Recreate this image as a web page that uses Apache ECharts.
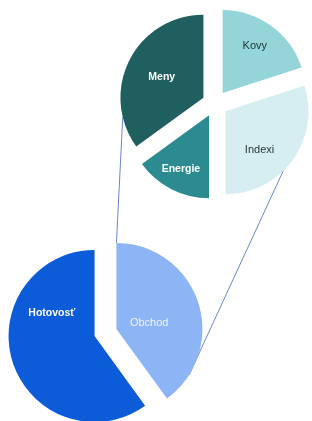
<!DOCTYPE html>
<html>
<head>
<meta charset="utf-8">
<script src="https://cdn.jsdelivr.net/npm/echarts@6/dist/echarts.min.js"></script>
<style>
  html, body { margin: 0; padding: 0; background: #fff; }
  #main { width: 312px; height: 421px; }
</style>
</head>
<body>
<div id="main"></div>
<script>
// horny kolac (rozpad Obchodu) a dolny kolac
var topNames = ['Kovy', 'Indexi', 'Energie', 'Meny'];
var topValues = [20, 30, 15, 35];
var bottomNames = ['Obchod', 'Hotovosť'];
var bottomValues = [40, 60];

var topColors = ['#93d5d8', '#d6eef2', '#2b8b90', '#1f5f5f'];
var topLabelColors = ['#1e3333', '#1e3333', '#ffffff', '#ffffff'];
var topLabelBold = [false, false, true, true];
var topLabelShift = [[6, -11], [-2, 13], [-8, 14], [-2, 0]];
var bottomColors = ['#8db4f5', '#0c5bd8'];
var bottomLabelColors = ['#eef4ff', '#ffffff'];
var bottomLabelBold = [false, true];
var bottomLabelShift = [[-11, 8], [1, -37]];

// geometria kolacov (px)
var topCenter = [215, 103.6], topR = 83, topGap = 13;
var bottomCenter = [105.5, 332.5], bottomR = 86, bottomGap = 11.5;

var MyChart = echarts.init(document.getElementById('main'));

function buildData(names, values, colors, labelColors, bold) {
  var arr = [];
  for (var i = 0; i < names.length; i++) {
    arr.push({
      name: names[i],
      value: values[i],
      selected: true,
      itemStyle: { color: colors[i] },
      select: { itemStyle: { color: colors[i], borderWidth: 0 } },
      label: {
        color: labelColors[i],
        fontWeight: bold[i] ? 'bold' : 'normal',
        fontSize: bold[i] ? 10.5 : 11
      }
    });
  }
  return arr;
}

// bod na obvode vysunuteho dielika (uhol v stupnoch, od 12 hodiny v smere hodin)
function slicePoint(center, r, gap, values, idx, angle) {
  var total = 0, before = 0;
  for (var i = 0; i < values.length; i++) {
    total += values[i];
    if (i < idx) before += values[i];
  }
  var mid = (before + values[idx] / 2) / total * 2 * Math.PI;
  var cx = center[0] + gap * Math.sin(mid);
  var cy = center[1] - gap * Math.cos(mid);
  var a = angle * Math.PI / 180;
  return [cx + r * Math.sin(a), cy - r * Math.cos(a)];
}

var p1 = slicePoint(topCenter, topR, topGap, topValues, 3, 256.4);
var p2 = slicePoint(bottomCenter, bottomR, bottomGap, bottomValues, 0, 0);
var p3 = slicePoint(topCenter, topR, topGap, topValues, 1, 136);
var p4 = slicePoint(bottomCenter, bottomR, bottomGap, bottomValues, 0, 122.5);

var labelBase = {
  show: true,
  position: 'inside',
  fontFamily: 'Liberation Sans, Arial, sans-serif',
  fontSize: 11
};

function shiftLabels(shifts) {
  return function (params) {
    var s = shifts[params.dataIndex];
    return { dx: s[0], dy: s[1] };
  };
}

var option = {
  animation: false,
  backgroundColor: '#ffffff',
  graphic: [
    { type: 'line', shape: { x1: p1[0], y1: p1[1], x2: p2[0], y2: p2[1] },
      style: { stroke: '#6b87cc', lineWidth: 1 } },
    { type: 'line', shape: { x1: p3[0], y1: p3[1], x2: p4[0], y2: p4[1] },
      style: { stroke: '#6b87cc', lineWidth: 1 } }
  ],
  series: [
    {
      type: 'pie',
      center: topCenter,
      radius: topR,
      startAngle: 90,
      selectedMode: 'multiple',
      selectedOffset: topGap,
      silent: true,
      label: labelBase,
      labelLine: { show: false },
      labelLayout: shiftLabels(topLabelShift),
      data: buildData(topNames, topValues, topColors, topLabelColors, topLabelBold)
    },
    {
      type: 'pie',
      center: bottomCenter,
      radius: bottomR,
      startAngle: 90,
      selectedMode: 'multiple',
      selectedOffset: bottomGap,
      silent: true,
      label: labelBase,
      labelLine: { show: false },
      labelLayout: shiftLabels(bottomLabelShift),
      data: buildData(bottomNames, bottomValues, bottomColors, bottomLabelColors, bottomLabelBold)
    }
  ]
};
MyChart.setOption(option);
</script>
</body>
</html>
